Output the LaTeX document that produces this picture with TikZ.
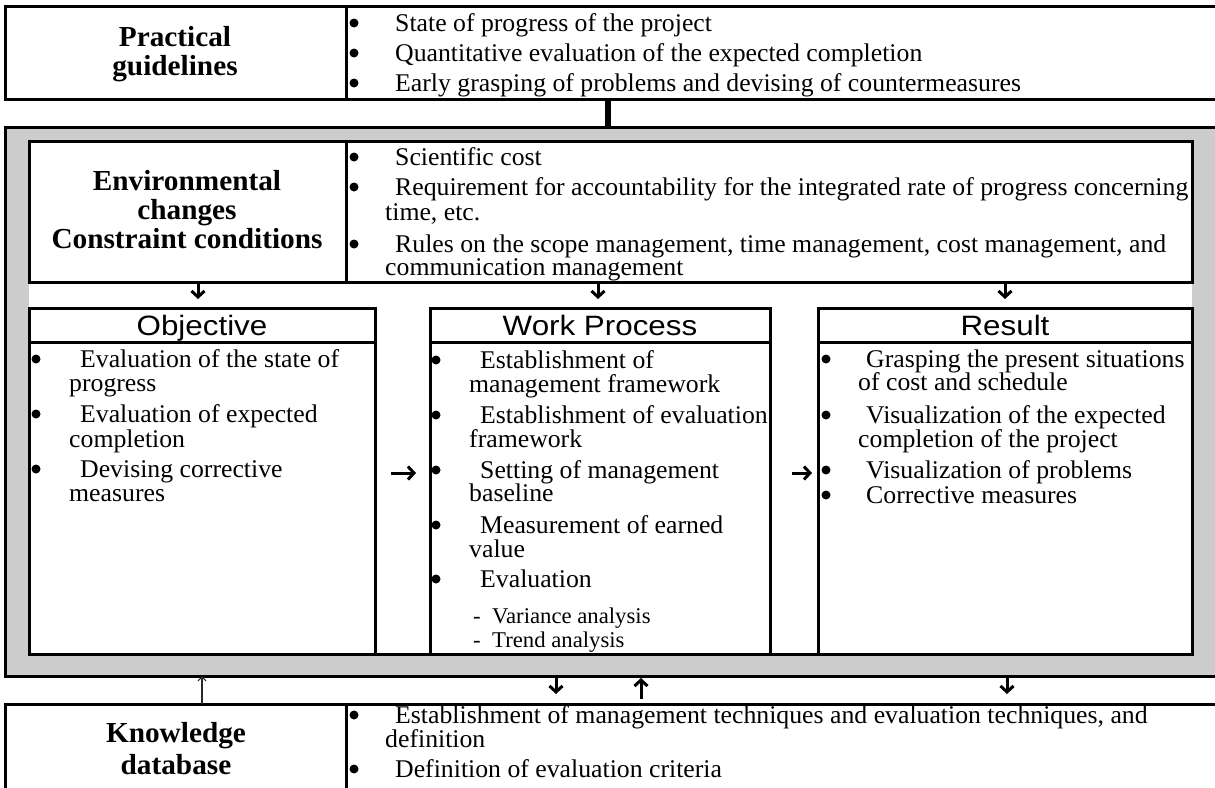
\documentclass[tikz,border=0pt]{standalone}
\usepackage{fontspec}
\setmainfont{Liberation Serif}[FakeStretch=1.01]
\newfontfamily\hdrfont{Liberation Sans}[FakeStretch=1.12]
\usetikzlibrary{arrows.meta,calc}
\definecolor{grayc}{RGB}{204,204,204}
\definecolor{thinc}{RGB}{40,40,40}
\tikzset{
  box/.style={draw=black, line width=3pt, fill=white, inner sep=0pt, outer sep=0pt, anchor=north west},
  body/.style={font=\fontsize{25.5}{27}\selectfont, inner sep=0pt, anchor=base west},
  bul/.style={circle, fill=black, inner sep=0pt, minimum size=9pt},
  ttl/.style={font=\bfseries\fontsize{29}{31}\selectfont, inner sep=0pt, anchor=base},
  hdr/.style={font=\hdrfont\fontsize{28}{30}\selectfont, inner sep=0pt, anchor=base},
  small/.style={font=\fontsize{22.5}{24}\selectfont, inner sep=0pt, anchor=base west},
  rule/.style={line width=3pt},
  barr/.style={line width=3pt, -{Straight Barb[length=6pt,width=13pt,line width=3pt]}},
  thinarr/.style={draw=thinc, line width=1.5pt, -{Straight Barb[length=4pt,width=8pt,line width=1.2pt]}},
}
\begin{document}
\begin{tikzpicture}[x=1pt,y=-1pt]
\useasboundingbox (0,0) rectangle (1215,787);
\clip (0,0) rectangle (1215,787);

% ---------- Practical guidelines ----------
\node[box, minimum width=1230pt, minimum height=93pt] (pg) at (5,6) {};
\draw[rule] (346,6) -- (346,99);
\node[ttl] (pgt1) at (175,46) {Practical};
\node[ttl] (pgt2) at (175,75) {guidelines};
\node[bul] (pgb1) at (354,23) {};
\node[bul] (pgb2) at (354,53) {};
\node[bul] (pgb3) at (354,83) {};
\node[body] (pgl1) at (395,31) {State of progress of the project};
\node[body] (pgl2) at (395,61) {Quantitative evaluation of the expected completion};
\node[body] (pgl3) at (395,91) {Early grasping of problems and devising of countermeasures};

% ---------- gray frame ----------
\node[box, fill=grayc, minimum width=1230pt, minimum height=549pt] (gray) at (5,127) {};
\coordinate (barx) at (608,0);
\draw[line width=6pt] (pg.south -| barx) -- (gray.north -| barx);
\fill[white] (29,141) rectangle (1192,654);
\draw[rule] (29,654) -- (1192,654);

% ---------- Environmental changes ----------
\node[box, minimum width=1163pt, minimum height=141pt] (env) at (29,141) {};
\draw[rule] (346,141) -- (346,282);
\node[ttl] (ent1) at (187,190) {Environmental};
\node[ttl] (ent2) at (187,219) {changes};
\node[ttl] (ent3) at (187,248) {Constraint conditions};
\node[bul] (enb1) at (354,157) {};
\node[bul] (enb2) at (354,187) {};
\node[bul] (enb3) at (354,244) {};
\node[body] (enl1) at (395,165) {Scientific cost};
\node[body] (enl2) at (395,195) {Requirement for accountability for the integrated rate of progress concerning};
\node[body] (enl3) at (385,220) {time, etc.};
\node[body] (enl4) at (395,252) {Rules on the scope management, time management, cost management, and};
\node[body] (enl5) at (385,275) {communication management};

% ---------- three boxes ----------
\node[box, minimum width=346pt, minimum height=346pt] (obj) at (29,308) {};
\node[box, minimum width=340pt, minimum height=346pt] (wp) at (430,308) {};
\node[box, minimum width=374pt, minimum height=346pt] (res) at (818,308) {};
\draw[rule] (29,342) -- (375,342);
\draw[rule] (430,342) -- (770,342);
\draw[rule] (818,342) -- (1192,342);
\node[hdr] (objh) at (202,335) {Objective};
\node[hdr] (wph) at (600,335) {Work Process};
\node[hdr] (resh) at (1005,335) {Result};

% Objective
\node[bul] (ob1) at (36,359) {};
\node[bul] (ob2) at (36,414) {};
\node[bul] (ob3) at (36,469) {};
\node[body] (ol1) at (80,367) {Evaluation of the state of};
\node[body] (ol2) at (69,391) {progress};
\node[body] (ol3) at (80,422) {Evaluation of expected};
\node[body] (ol4) at (69,447) {completion};
\node[body] (ol5) at (80,477) {Devising corrective};
\node[body] (ol6) at (69,501) {measures};

% Work Process
\node[bul] (wb1) at (436,360) {};
\node[bul] (wb2) at (436,415) {};
\node[bul] (wb3) at (436,470) {};
\node[bul] (wb4) at (436,525) {};
\node[bul] (wb5) at (436,579) {};
\node[body] (wl1) at (480,368) {Establishment of};
\node[body] (wl2) at (469,392) {management framework};
\node[body] (wl3) at (480,423) {Establishment of evaluation};
\node[body] (wl4) at (469,447) {framework};
\node[body] (wl5) at (480,478) {Setting of management};
\node[body] (wl6) at (469,501) {baseline};
\node[body] (wl7) at (480,533) {Measurement of earned};
\node[body] (wl8) at (469,557) {value};
\node[body] (wl9) at (480,587) {Evaluation};
\node[small] (wd1) at (473,623) {-};
\node[small] (wd2) at (473,647) {-};
\node[small] (ws1) at (492,623) {Variance analysis};
\node[small] (ws2) at (492,647) {Trend analysis};

% Result
\node[bul] (rb1) at (826,359) {};
\node[bul] (rb2) at (826,415) {};
\node[bul] (rb3) at (826,470) {};
\node[bul] (rb4) at (826,495) {};
\node[body] (rl1) at (866,367) {Grasping the present situations};
\node[body] (rl2) at (858,390) {of cost and schedule};
\node[body] (rl3) at (866,423) {Visualization of the expected};
\node[body] (rl4) at (858,447) {completion of the project};
\node[body] (rl5) at (866,478) {Visualization of problems};
\node[body] (rl6) at (866,503) {Corrective measures};

% ---------- Knowledge database ----------
\node[box, minimum width=1230pt, minimum height=120pt] (kn) at (5,704) {};
\draw[rule] (346,704) -- (346,824);
\node[ttl] (knt1) at (176,742) {Knowledge};
\node[ttl] (knt2) at (176,774) {database};
\node[bul] (knb1) at (354,715) {};
\node[bul] (knb2) at (354,769) {};
\node[body] (knl1) at (395,723) {Establishment of management techniques and evaluation techniques, and};
\node[body] (knl2) at (385,747) {definition};
\node[body] (knl3) at (395,777) {Definition of evaluation criteria};

% ---------- arrows ----------
\coordinate (d1) at (198,299);
\coordinate (d2) at (598,299);
\coordinate (d3) at (1005,299);
\draw[barr] (env.south -| d1) -- (d1);
\draw[barr] (env.south -| d2) -- (d2);
\draw[barr] (env.south -| d3) -- (d3);

\coordinate (r1a) at (391,473);
\coordinate (r1b) at (416,473);
\coordinate (r2a) at (792,473);
\coordinate (r2b) at (812,473);
\draw[barr] (r1a) -- (r1b);
\draw[barr] (r2a) -- (r2b);

\coordinate (e1) at (556,694);
\coordinate (e3) at (1007,694);
\draw[barr] (gray.south -| e1) -- (e1);
\draw[barr] (gray.south -| e3) -- (e3);
\coordinate (u1a) at (641,699);
\coordinate (u1b) at (641,678);
\draw[barr] (u1a) -- (u1b);
\coordinate (tx) at (202,0);
\draw[thinarr] (kn.north -| tx) -- (gray.south -| tx);
\end{tikzpicture}
\end{document}
